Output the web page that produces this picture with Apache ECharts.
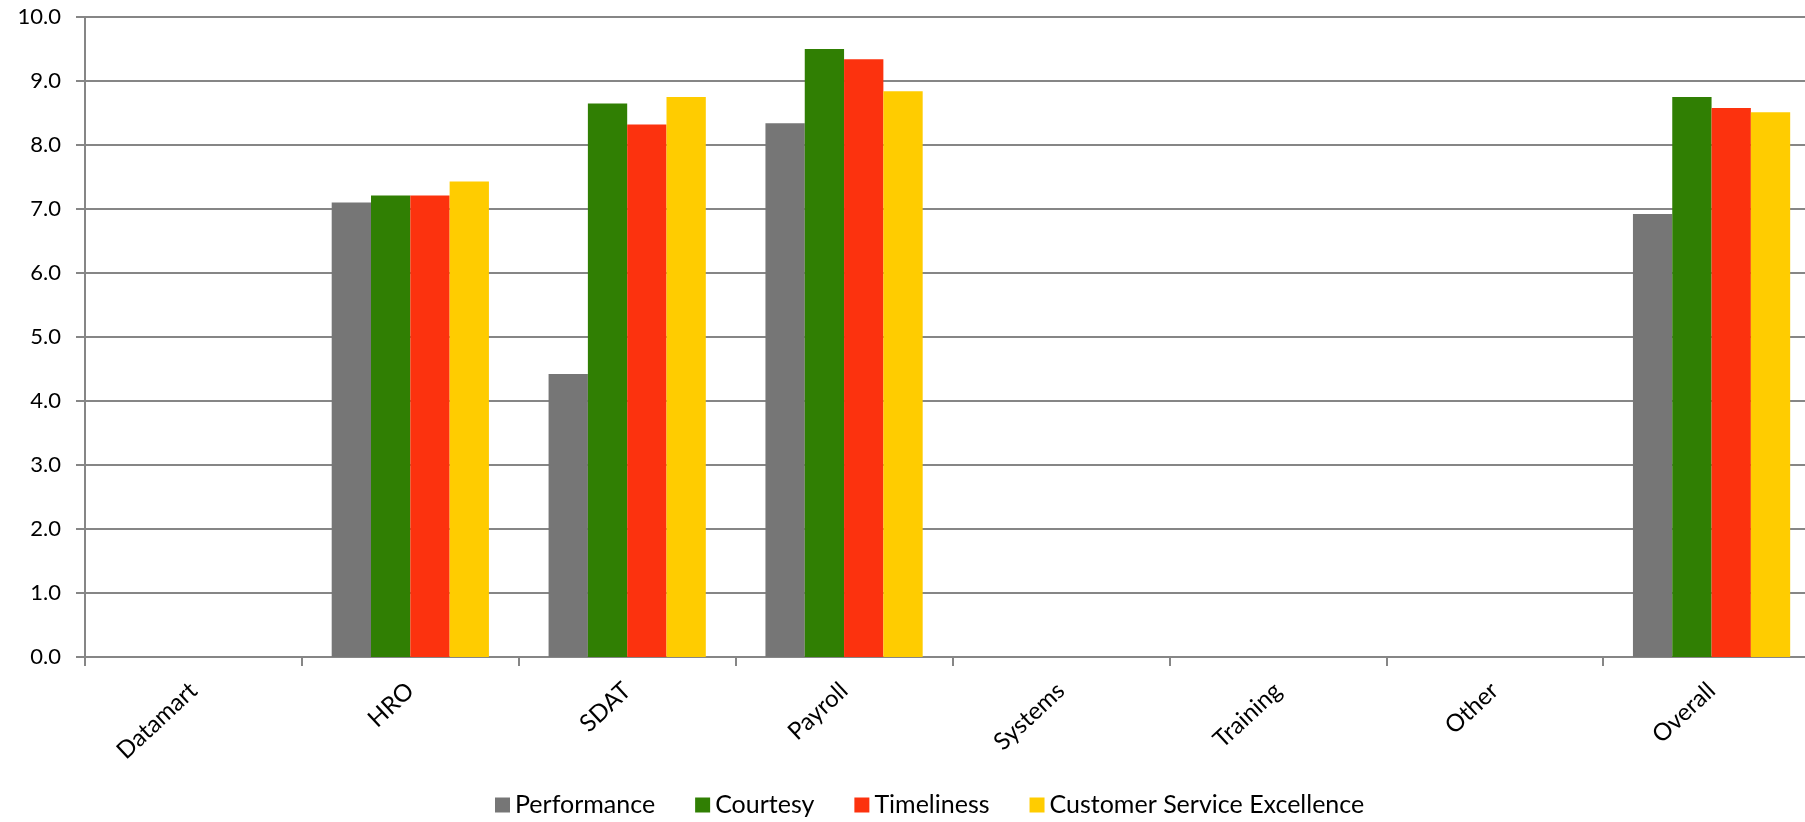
<!DOCTYPE html>
<html>
<head>
<meta charset="utf-8">
<script src="https://cdn.jsdelivr.net/npm/echarts@6/dist/echarts.min.js"></script>
<style>
html,body{margin:0;padding:0;background:#fff;}
#chart{width:1805px;height:822px;}
</style>
</head>
<body>
<div id="chart"></div>
<script>
const categories = ['Datamart', 'HRO', 'SDAT', 'Payroll', 'Systems', 'Training', 'Other', 'Overall'];
const performance = [null, 7.10, 4.42, 8.34, null, null, null, 6.92];
const courtesy    = [null, 7.21, 8.65, 9.50, null, null, null, 8.75];
const timeliness  = [null, 7.21, 8.32, 9.34, null, null, null, 8.58];
const excellence  = [null, 7.43, 8.75, 8.84, null, null, null, 8.51];
const seriesNames = ['Performance', 'Courtesy', 'Timeliness', 'Customer Service Excellence'];
const seriesColors = ['#767676', '#307f03', '#fc320e', '#ffcc00'];
const yTicks = [0, 1, 2, 3, 4, 5, 6, 7, 8, 9, 10];

const FONT = 'Lato, "Noto Sans", sans-serif';
const chart = echarts.init(document.getElementById('chart'), null, {renderer: 'canvas'});
const data = [performance, courtesy, timeliness, excellence];

chart.setOption({
  animation: false,
  backgroundColor: '#ffffff',
  grid: {left: 85, top: 17, width: 1735, height: 640, containLabel: false, outerBoundsMode: 'none'},
  legend: {
    left: 490, top: 786,
    icon: 'rect', itemWidth: 15, itemHeight: 15, itemGap: 40,
    textStyle: {fontFamily: FONT, fontSize: 25, color: '#000', lineHeight: 28},
    data: seriesNames
  },
  xAxis: {
    type: 'category',
    data: categories,
    boundaryGap: true,
    axisLine: {show: true, lineStyle: {color: '#868686', width: 2}},
    axisTick: {show: true, length: 9, alignWithLabel: false, interval: 0, lineStyle: {color: '#868686', width: 2}},
    axisLabel: {
      interval: 0, rotate: 43, margin: 30,
      fontFamily: FONT, fontSize: 24, color: '#000'
    },
    splitLine: {show: false}
  },
  yAxis: {
    type: 'value',
    min: yTicks[0], max: yTicks[yTicks.length - 1], interval: 1,
    axisLine: {show: true, lineStyle: {color: '#868686', width: 2}},
    axisTick: {show: true, length: 9, lineStyle: {color: '#868686', width: 2}},
    axisLabel: {
      margin: 24, fontFamily: FONT, fontSize: 22, color: '#000',
      formatter: v => v.toFixed(1)
    },
    splitLine: {show: true, lineStyle: {color: '#868686', width: 2}}
  },
  series: seriesNames.map((name, i) => ({
    name: name,
    type: 'bar',
    data: data[i],
    barGap: '0%',
    barCategoryGap: '27.5%',
    itemStyle: {color: seriesColors[i]},
    z: 3
  }))
});
</script>
</body>
</html>
